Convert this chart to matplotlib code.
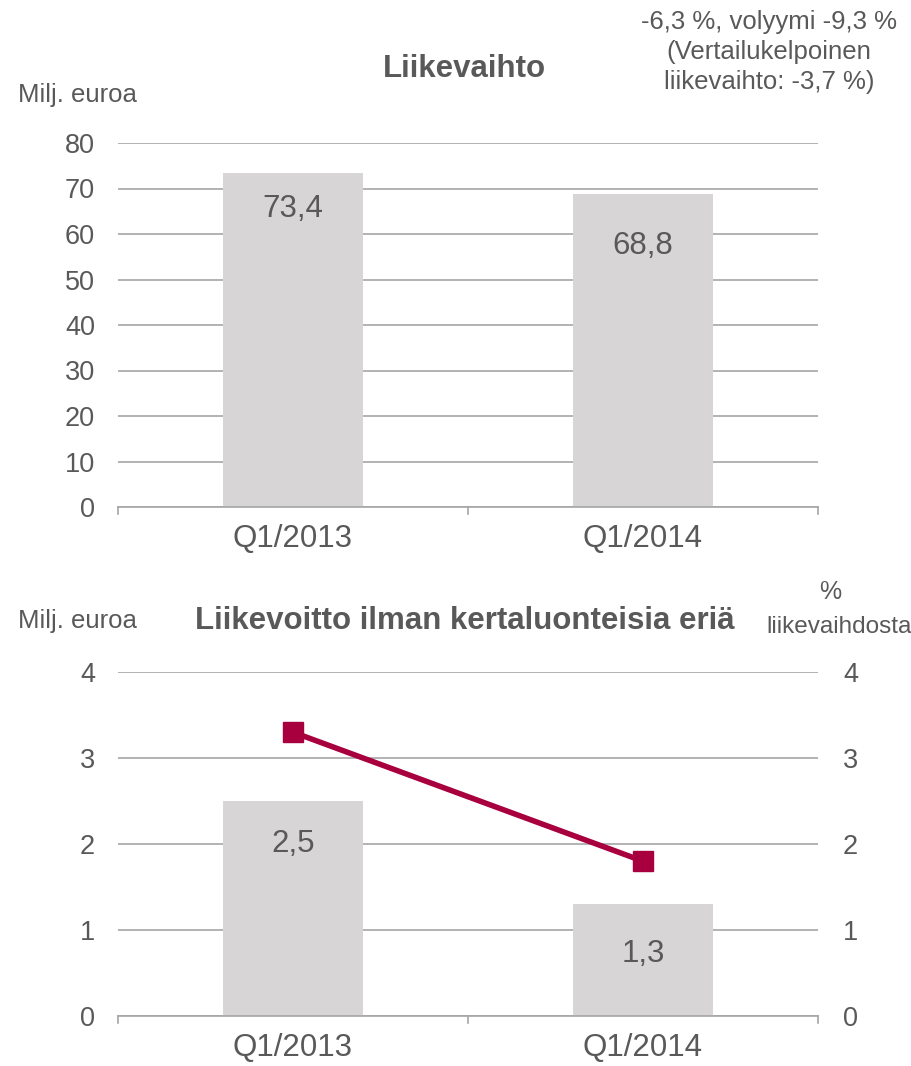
import matplotlib
matplotlib.use("Agg")
import matplotlib.pyplot as plt
import numpy as np

plt.rcParams['font.family'] = ['Liberation Sans', 'DejaVu Sans']

categories = ["Q1/2013", "Q1/2014"]
revenue = [73.4, 68.8]
revenue_labels = ["73,4", "68,8"]
ebit = [2.5, 1.3]
ebit_labels = ["2,5", "1,3"]
ebit_pct = [3.3, 1.8]
top_yticks = [0, 10, 20, 30, 40, 50, 60, 70, 80]
bot_yticks = [0, 1, 2, 3, 4]

TXT = "#595959"
GRID = "#A6A6A6"
BAR = "#D7D5D6"
LINE = "#A8003F"

W, H = 912, 1066
fig = plt.figure(figsize=(W / 100, H / 100), dpi=100)

def fx(px):
    return px / W

def fy(py):
    return 1 - py / H

def style_axis(ax, ymax, yticks):
    x = np.arange(len(categories))
    ax.set_xlim(-0.5, len(categories) - 0.5)
    ax.set_ylim(0, ymax)
    ax.set_yticks(yticks)
    ax.set_yticklabels([str(t) for t in yticks])
    for s in ["top", "right", "left"]:
        ax.spines[s].set_visible(False)
    ax.spines["bottom"].set_color(GRID)
    ax.spines["bottom"].set_linewidth(1.2)
    ax.yaxis.grid(True, color=GRID, linewidth=1.2)
    ax.set_axisbelow(True)
    ax.tick_params(axis="y", length=0, labelsize=19.5, labelcolor=TXT, pad=16.5)
    ax.set_xticks(x)
    ax.set_xticklabels(categories)
    ax.tick_params(axis="x", length=0, labelsize=22.5, labelcolor=TXT, pad=12)
    for b in np.arange(-0.5, len(categories), 1.0):
        ax.plot([b, b], [0, -0.02], transform=ax.get_xaxis_transform(),
                color=GRID, lw=1.2, clip_on=False)
    return x

# Top chart
ax1 = fig.add_axes([fx(118), fy(507), fx(818) - fx(118), fy(143) - fy(507)])
x = style_axis(ax1, 80, top_yticks)
ax1.bar(x, revenue, width=0.4, color=BAR, zorder=2)
for xi, v, lab, off in zip(x, revenue, revenue_labels, [-36, -52]):
    ax1.annotate(lab, (xi, v), xytext=(0, off), textcoords="offset pixels",
                 ha="center", va="center", fontsize=22.5, color=TXT)

fig.text(fx(18), fy(102), "Milj. euroa", fontsize=18.5, color=TXT, va="baseline", ha="left")
fig.text(fx(464), fy(77), "Liikevaihto", fontsize=22.5, color=TXT, weight="bold",
         va="baseline", ha="center")
for line, base in zip(["-6,3 %, volyymi -9,3 %", "(Vertailukelpoinen", "liikevaihto: -3,7 %)"],
                      [29, 59, 89]):
    fig.text(fx(769), fy(base), line, fontsize=18.5, color=TXT, va="baseline", ha="center")

# Bottom chart
ax2 = fig.add_axes([fx(118), fy(1016), fx(818) - fx(118), fy(672) - fy(1016)])
x = style_axis(ax2, 4, bot_yticks)
ax2.bar(x, ebit, width=0.4, color=BAR, zorder=2)
for xi, v, lab, off in zip(x, ebit, ebit_labels, [-43, -50]):
    ax2.annotate(lab, (xi, v), xytext=(0, off), textcoords="offset pixels",
                 ha="center", va="center", fontsize=22.5, color=TXT)

ax3 = ax2.twinx()
ax3.set_ylim(0, 4)
ax3.set_yticks(bot_yticks)
for s in ["top", "right", "left", "bottom"]:
    ax3.spines[s].set_visible(False)
ax3.tick_params(axis="y", length=0, labelsize=19.5, labelcolor=TXT, pad=18)
ax3.plot(x, ebit_pct, color=LINE, lw=4, marker="s", markersize=15, zorder=5)

fig.text(fx(18), fy(628), "Milj. euroa", fontsize=18.5, color=TXT, va="baseline", ha="left")
fig.text(fx(465), fy(629), "Liikevoitto ilman kertaluonteisia eriä", fontsize=22.5,
         color=TXT, weight="bold", va="baseline", ha="center")
fig.text(fx(830), fy(599), "%", fontsize=18, color=TXT, va="baseline", ha="center")
fig.text(fx(912), fy(633), "liikevaihdosta", fontsize=17.5, color=TXT, va="baseline", ha="right")

fig.savefig("out.png", dpi=100)
